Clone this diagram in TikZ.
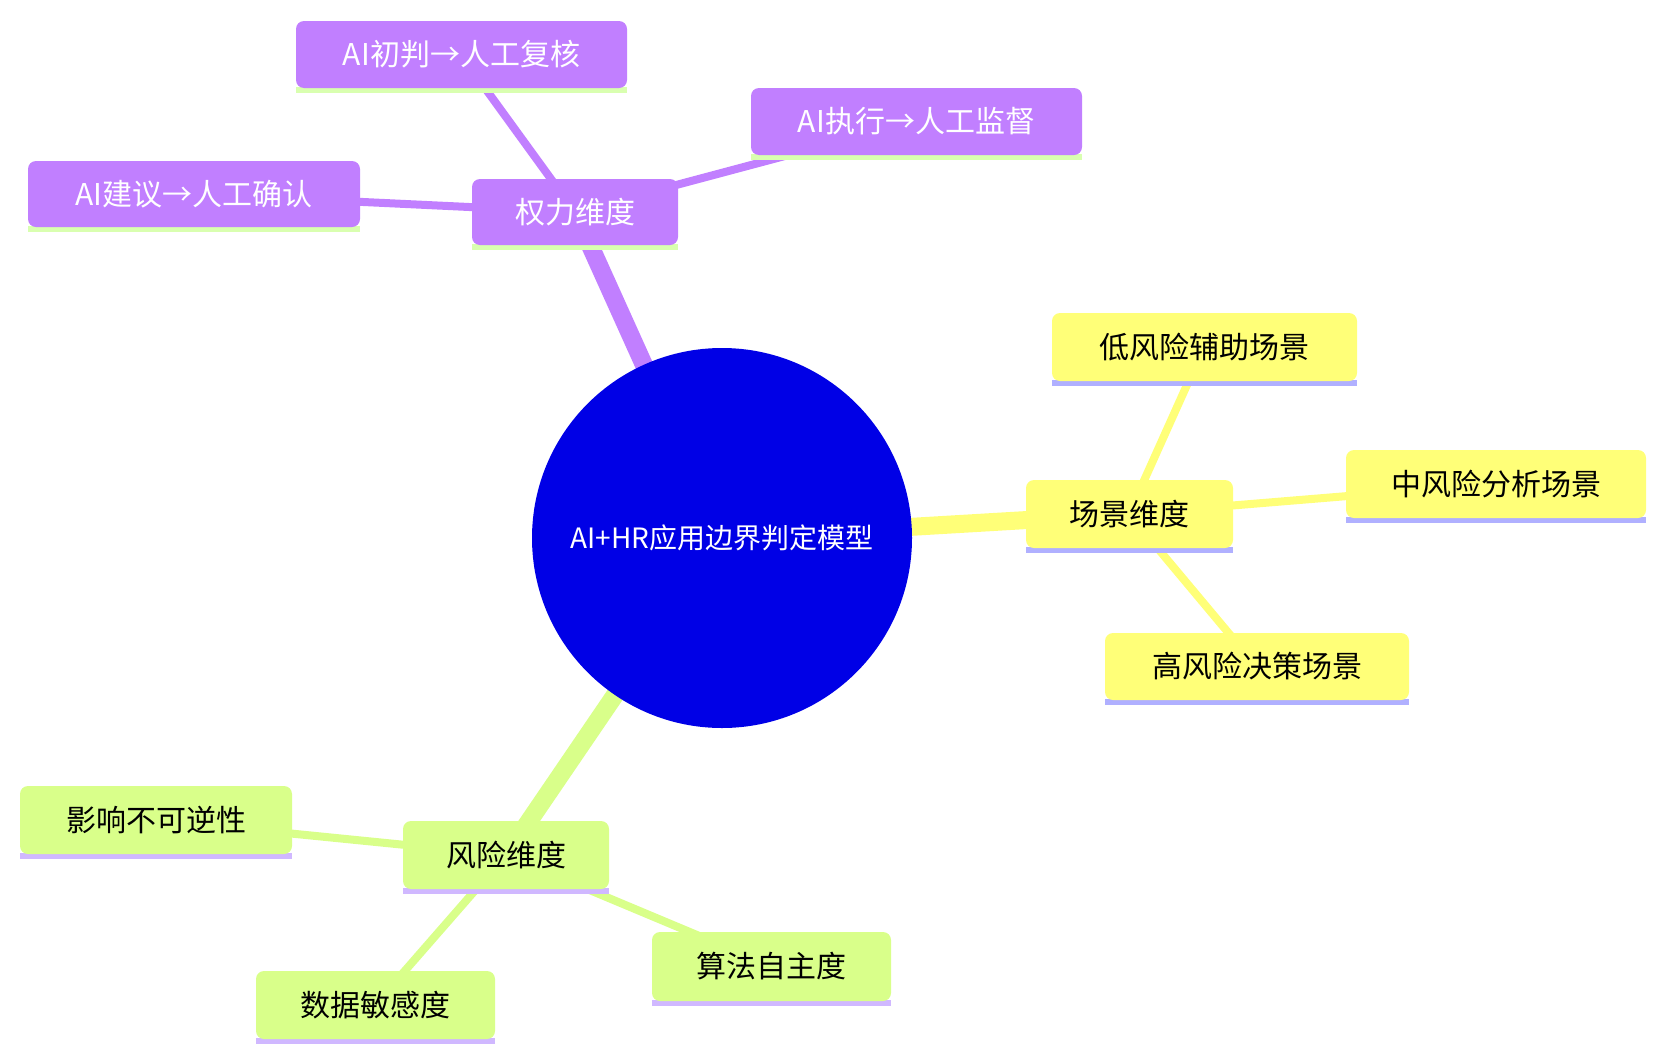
\documentclass[tikz,border=0pt]{standalone}
\usepackage{fontspec}
\setmainfont{Noto Sans CJK SC}
\begin{document}
\begin{tikzpicture}[x=0.5pt,y=-0.5pt,
 box/.style={rounded corners=4pt,inner sep=0pt,font=\fontsize{15pt}{18pt}\selectfont},
 pbox/.style={box,fill=pu,text=white},
 ybox/.style={box,fill=ye,text=black},
 gbox/.style={box,fill=gr,text=black}]
\definecolor{pu}{HTML}{C17FFF}\definecolor{ye}{HTML}{FFFF78}\definecolor{gr}{HTML}{D9FF8A}
\definecolor{pul}{HTML}{D9FFB0}\definecolor{yel}{HTML}{B0B0FF}\definecolor{grl}{HTML}{D0B8FF}
\useasboundingbox (0,0) rectangle (1665,1055);
\newcommand\bx[6]{% style, name, x1,y1,x2,y2 text via \btext
}
\def\mk#1#2#3#4#5#6#7#8{%
 \fill[#8] (#3,#6-1) rectangle (#5,#6+5);
 \node[#1,minimum width=(#5-#3)*0.5pt,minimum height=(#6-#4)*0.5pt] (#2) at ({(#3+#5)/2},{(#4+#6)/2}) {#7};}
\coordinate (c) at (722,538);
% edges
\draw[pu,line width=9pt] (c) -- (575,212);
\draw[ye,line width=9pt] (c) -- (1129,514);
\draw[gr,line width=9pt] (c) -- (506,855);
\draw[pu,line width=4pt] (575,212) -- (461,55) (575,212) -- (916,121) (575,212) -- (194,194);
\draw[ye,line width=4pt] (1129,514) -- (1204,347) (1129,514) -- (1494,484) (1129,514) -- (1257,667);
\draw[gr,line width=4pt] (506,855) -- (156,820) (506,855) -- (771,966) (506,855) -- (375,1005);
\fill[fill={rgb,255:red,0;green,0;blue,230}] (c) circle (190);
\node[text=white,font=\fontsize{14pt}{17pt}\selectfont] (center) at (c) {AI+HR应用边界判定模型};
\mk{pbox}{p}{472}{179}{678}{245}{权力维度}{pul}
\mk{pbox}{p1}{296}{21}{627}{88}{AI初判→人工复核}{pul}
\mk{pbox}{p2}{751}{88}{1082}{155}{AI执行→人工监督}{pul}
\mk{pbox}{p3}{28}{161}{360}{227}{AI建议→人工确认}{pul}
\mk{ybox}{y}{1026}{480}{1233}{548}{场景维度}{yel}
\mk{ybox}{y1}{1052}{313}{1357}{381}{低风险辅助场景}{yel}
\mk{ybox}{y2}{1346}{450}{1646}{518}{中风险分析场景}{yel}
\mk{ybox}{y3}{1105}{633}{1409}{700}{高风险决策场景}{yel}
\mk{gbox}{g}{403}{821}{609}{889}{风险维度}{grl}
\mk{gbox}{g1}{20}{786}{292}{854}{影响不可逆性}{grl}
\mk{gbox}{g2}{652}{932}{891}{1001}{算法自主度}{grl}
\mk{gbox}{g3}{256}{971}{495}{1039}{数据敏感度}{grl}
\end{tikzpicture}
\end{document}
